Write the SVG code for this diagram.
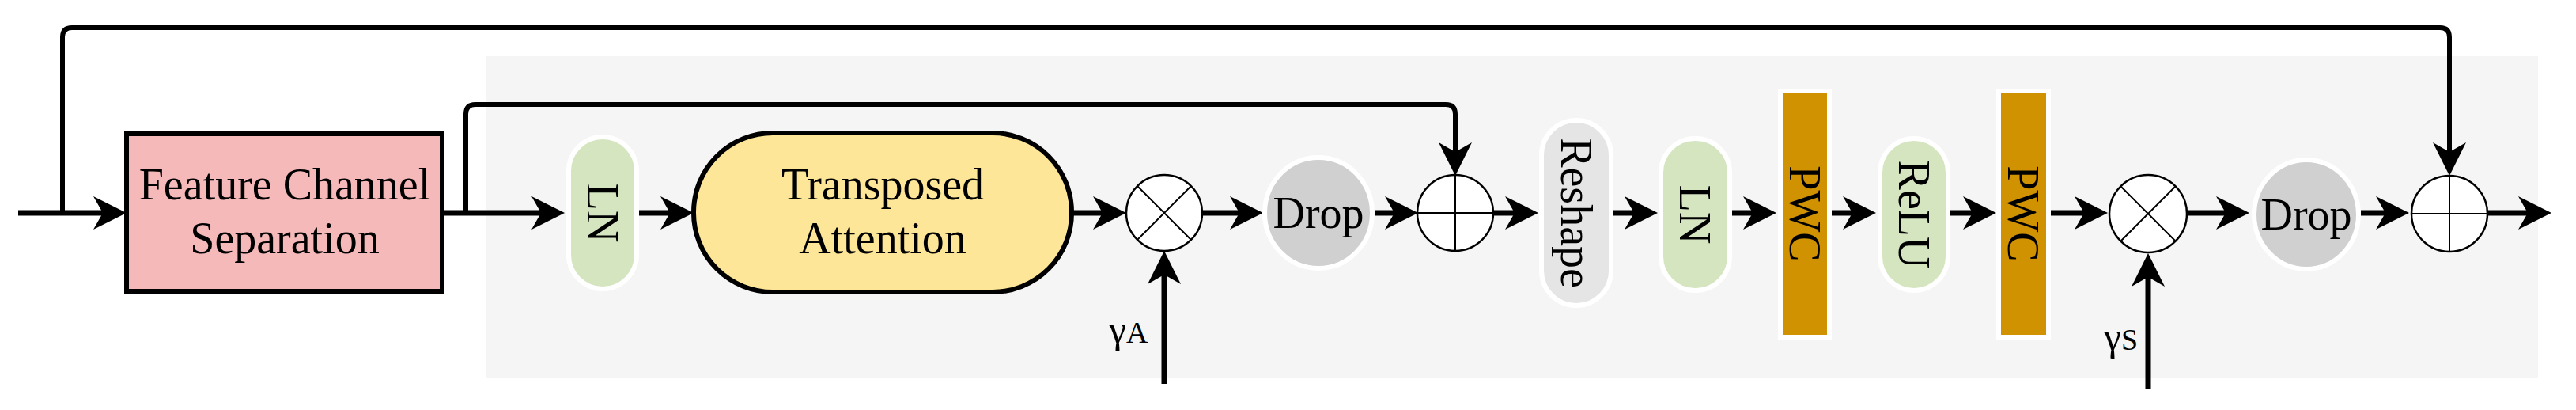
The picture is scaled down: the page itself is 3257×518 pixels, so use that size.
<svg xmlns="http://www.w3.org/2000/svg" width="3257" height="518" viewBox="0 0 3257 518">
<style>
.t{font-family:"Liberation Serif","Times New Roman",serif;font-size:56px;fill:#000;text-anchor:middle}
.ln{fill:none;stroke:#000;stroke-width:7}
.sk{fill:none;stroke:#000;stroke-width:6}
.op{fill:#fff;stroke:#000;stroke-width:2.5}
.opl{stroke:#000;stroke-width:2}
.pill{stroke:#fff;stroke-width:6}
</style>
<defs>
<marker id="a" markerUnits="userSpaceOnUse" markerWidth="60" markerHeight="50" viewBox="-20 -25 50 50" refX="0" refY="0" orient="auto" overflow="visible">
<path d="M25,0 L-17,-21 L-5,0 L-17,21 Z" fill="#000"/>
</marker>
</defs>
<rect id="bg" x="614" y="71" width="2595" height="407" fill="#f5f5f5"/>
<g id="connectors">
<path class="ln" d="M23,269 H135" marker-end="url(#a)"/>
<path class="ln" d="M559,269 H689" marker-end="url(#a)"/>
<path class="ln" d="M805,269 H852" marker-end="url(#a)"/>
<path class="ln" d="M1355,269 H1399" marker-end="url(#a)"/>
<path class="ln" d="M1520,269 H1572" marker-end="url(#a)"/>
<path class="ln" d="M1738,269 H1768" marker-end="url(#a)"/>
<path class="ln" d="M1888,269 H1920" marker-end="url(#a)"/>
<path class="ln" d="M2040,269 H2071" marker-end="url(#a)"/>
<path class="ln" d="M2190,269 H2221" marker-end="url(#a)"/>
<path class="ln" d="M2316,269 H2347" marker-end="url(#a)"/>
<path class="ln" d="M2466,269 H2499" marker-end="url(#a)"/>
<path class="ln" d="M2593,269 H2640" marker-end="url(#a)"/>
<path class="ln" d="M2764,269 H2819" marker-end="url(#a)"/>
<path class="ln" d="M2985,269 H3021" marker-end="url(#a)"/>
<path class="ln" d="M3145,269 H3201" marker-end="url(#a)"/>
<path class="ln" d="M1472,485 V342" marker-end="url(#a)"/>
<path class="ln" d="M2716,492 V345" marker-end="url(#a)"/>
<path class="sk" d="M79,269 V47 Q79,35 91,35 H3085 Q3097,35 3097,47 V197" marker-end="url(#a)"/>
<path class="sk" d="M589,269 V144 Q589,132 601,132 H1828 Q1840,132 1840,144 V197" marker-end="url(#a)"/>
</g>
<g id="fcs">
<rect x="160" y="169" width="399" height="199" fill="#f4b9b8" stroke="#000" stroke-width="6"/>
<text class="t" x="360" y="252">Feature Channel</text>
<text class="t" x="360" y="320">Separation</text>
</g>
<g id="ln1">
<rect class="pill" x="719" y="173" width="86" height="192" rx="43" fill="#d5e5c0"/>
<text class="t" transform="translate(762,269) rotate(90)" y="19">LN</text>
</g>
<g id="ta">
<rect x="877" y="168" width="478" height="201" rx="100" ry="100" fill="#fee699" stroke="#000" stroke-width="6"/>
<text class="t" x="1116" y="252">Transposed</text>
<text class="t" x="1116" y="320">Attention</text>
</g>
<g id="mul1">
<circle class="op" cx="1472" cy="269" r="48"/>
<path class="opl" d="M1438,235 L1506,303 M1506,235 L1438,303"/>
<text class="t" x="1402" y="433" style="text-anchor:start;font-size:50px">γ<tspan style="font-size:38px">A</tspan></text>
</g>
<g id="drop1">
<ellipse class="pill" cx="1667" cy="269" rx="68" ry="70" fill="#d0d0d0"/>
<text class="t" x="1667" y="288">Drop</text>
</g>
<g id="add1">
<circle class="op" cx="1840" cy="269" r="48"/>
<path class="opl" d="M1840,221 V317 M1792,269 H1888"/>
</g>
<g id="reshape">
<rect class="pill" x="1949" y="152" width="88" height="234" rx="44" fill="#e5e5e5"/>
<text class="t" transform="translate(1993,269) rotate(90)" y="19">Reshape</text>
</g>
<g id="ln2">
<rect class="pill" x="2100" y="175" width="87" height="192" rx="43" fill="#d5e5c0"/>
<text class="t" transform="translate(2143,271) rotate(90)" y="19">LN</text>
</g>
<g id="pwc1">
<rect class="pill" x="2251" y="115" width="62" height="311" fill="#d09200"/>
<text class="t" transform="translate(2282,270) rotate(90)" y="19">PWC</text>
</g>
<g id="relu">
<rect class="pill" x="2377" y="175" width="86" height="192" rx="43" fill="#d5e5c0"/>
<text class="t" transform="translate(2420,271) rotate(90)" y="19">ReLU</text>
</g>
<g id="pwc2">
<rect class="pill" x="2527" y="115" width="63" height="311" fill="#d09200"/>
<text class="t" transform="translate(2558,270) rotate(90)" y="19">PWC</text>
</g>
<g id="mul2">
<circle class="op" cx="2716" cy="270" r="49"/>
<path class="opl" d="M2682,236 L2750,304 M2750,236 L2682,304"/>
<text class="t" x="2660" y="442" style="text-anchor:start;font-size:50px">γ<tspan style="font-size:38px">S</tspan></text>
</g>
<g id="drop2">
<ellipse class="pill" cx="2916" cy="271" rx="66" ry="69" fill="#d0d0d0"/>
<text class="t" x="2916" y="290">Drop</text>
</g>
<g id="add2">
<circle class="op" cx="3097" cy="270" r="48"/>
<path class="opl" d="M3097,222 V318 M3049,270 H3145"/>
</g>
</svg>
